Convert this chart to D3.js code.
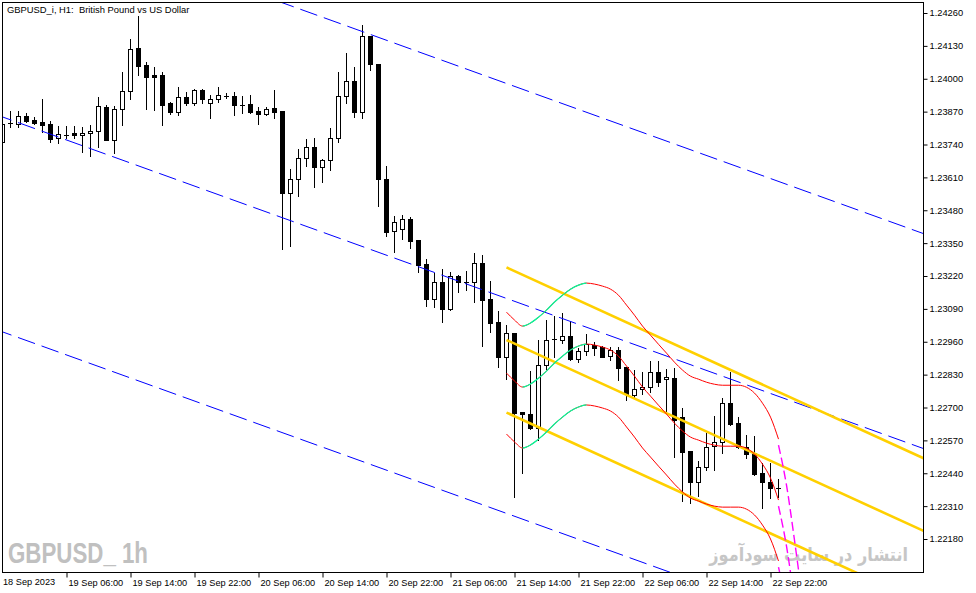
<!DOCTYPE html>
<html>
<head>
<meta charset="utf-8">
<script src="https://cdn.jsdelivr.net/npm/d3@7"></script>
<style>
body { margin: 0; background: #fff; }
svg { display: block; }
text { font-family: "Liberation Sans", Arial, sans-serif; }
</style>
</head>
<body>
<script>
// GBPUSD_i H1 candles, 18 Sep 22:00 .. 22 Sep 23:00 (bar 0 .. bar 97)
var opens = [1.23749,1.23821,1.23821,1.23852,1.23836,1.23829,1.23821,1.23765,1.23781,1.23785,
1.23777,1.23785,1.23793,1.23888,1.23757,1.23880,1.23951,1.24121,1.24054,1.24014,
1.24014,1.23904,1.23868,1.23927,1.23904,1.23955,1.23904,1.23919,1.23931,1.23931,
1.23900,1.23900,1.23872,1.23860,1.23884,1.23872,1.23548,1.23603,1.23686,1.23730,
1.23651,1.23678,1.23765,1.23931,1.23991,1.23868,1.24169,1.24058,1.23603,1.23397,
1.23405,1.23445,1.23362,1.23267,1.23129,1.23196,1.23089,1.23220,1.23196,1.23196,
1.23271,1.23129,1.23038,1.22899,1.22994,1.22682,1.22674,1.22618,1.22868,1.22967,
1.22967,1.22982,1.22891,1.22923,1.22947,1.22939,1.22903,1.22927,1.22860,1.22749,
1.22773,1.22781,1.22840,1.22812,1.22816,1.22662,1.22528,1.22405,1.22464,1.22547,
1.22563,1.22717,1.22638,1.22543,1.22520,1.22440,1.22405,1.22381];

var highs = [1.23832,1.23872,1.23872,1.23864,1.23848,1.23919,1.23832,1.23813,1.23813,1.23813,
1.23809,1.23817,1.23927,1.23896,1.23892,1.24026,1.24157,1.24248,1.24066,1.24046,
1.24026,1.23908,1.23967,1.23947,1.23959,1.23959,1.23935,1.23967,1.23943,1.23947,
1.23931,1.23935,1.23888,1.23888,1.23955,1.23872,1.23643,1.23722,1.23761,1.23765,
1.23682,1.23805,1.24026,1.24101,1.24046,1.24212,1.24169,1.24058,1.23655,1.23457,
1.23461,1.23453,1.23362,1.23287,1.23231,1.23247,1.23235,1.23223,1.23239,1.23310,
1.23303,1.23200,1.23081,1.23026,1.22994,1.22682,1.22844,1.22967,1.23046,1.23061,
1.23073,1.23042,1.22935,1.22990,1.22959,1.22943,1.22939,1.22939,1.22860,1.22848,
1.22840,1.22883,1.22883,1.22852,1.22856,1.22698,1.22528,1.22488,1.22599,1.22666,
1.22737,1.22840,1.22662,1.22591,1.22587,1.22480,1.22480,1.22417];

var lows = [1.23745,1.23809,1.23809,1.23829,1.23821,1.23789,1.23749,1.23745,1.23765,1.23765,
1.23710,1.23694,1.23730,1.23757,1.23706,1.23817,1.23919,1.24014,1.23880,1.23876,
1.23817,1.23860,1.23856,1.23896,1.23896,1.23904,1.23844,1.23908,1.23923,1.23856,
1.23864,1.23864,1.23821,1.23856,1.23844,1.23326,1.23338,1.23536,1.23655,1.23571,
1.23591,1.23639,1.23749,1.23904,1.23848,1.23844,1.24034,1.23496,1.23378,1.23314,
1.23366,1.23330,1.23235,1.23101,1.23097,1.23038,1.23085,1.23156,1.23164,1.23117,
1.22943,1.22998,1.22860,1.22812,1.22346,1.22440,1.22614,1.22571,1.22852,1.22899,
1.22955,1.22887,1.22879,1.22907,1.22907,1.22899,1.22887,1.22808,1.22729,1.22741,
1.22753,1.22761,1.22785,1.22682,1.22504,1.22330,1.22322,1.22350,1.22452,1.22452,
1.22520,1.22630,1.22539,1.22500,1.22433,1.22302,1.22342,1.22346];

var closes = [1.23821,1.23825,1.23852,1.23832,1.23825,1.23817,1.23761,1.23781,1.23779,1.23777,
1.23785,1.23793,1.23892,1.23757,1.23880,1.23951,1.24117,1.24050,1.24006,1.24006,
1.23896,1.23868,1.23927,1.23904,1.23955,1.23919,1.23919,1.23935,1.23933,1.23896,
1.23898,1.23868,1.23860,1.23880,1.23868,1.23548,1.23603,1.23686,1.23730,1.23651,
1.23678,1.23765,1.23931,1.23991,1.23868,1.24169,1.24058,1.23603,1.23394,1.23433,
1.23445,1.23358,1.23263,1.23129,1.23196,1.23089,1.23220,1.23196,1.23198,1.23271,
1.23125,1.23034,1.22899,1.22994,1.22678,1.22674,1.22618,1.22868,1.22967,1.22969,
1.22982,1.22891,1.22923,1.22951,1.22935,1.22899,1.22927,1.22856,1.22753,1.22773,
1.22781,1.22840,1.22800,1.22820,1.22650,1.22524,1.22405,1.22464,1.22543,1.22563,
1.22717,1.22634,1.22543,1.22516,1.22437,1.22405,1.22381,1.22383];

// band indicator: middle line from bar 63, forecast (dashed) from bar 97
var bandStart = 63;
var bandMid = [1.22836,1.22805,1.22781,1.22793,1.22816,1.22844,1.22876,1.22903,1.22927,1.22943,
1.22951,1.22947,1.22939,1.22927,1.22903,1.22864,1.22824,1.22781,1.22745,1.22709,
1.22674,1.22638,1.22607,1.22583,1.22571,1.22559,1.22551,1.22547,1.22547,1.22547,
1.22539,1.22516,1.22476,1.22421,1.22334];
var forecastStart = 97;
var bandForecast = [1.22310,1.22152,1.21934,1.21697];
var bandWidth = 0.00241;

// equidistant channels: [bar, price] of the middle line at two bars, and half width
var blueChannel = [[0, 1.23849], [115, 1.22539]];
var blueWidth = 0.00850;
var goldChannel = [[63, 1.22967], [115, 1.22214]];
var goldWidth = 0.00287;

var priceTicks = [1.22180,1.22310,1.22440,1.22570,1.22700,1.22830,1.22960,1.23090,1.23220,
1.23350,1.23480,1.23610,1.23740,1.23870,1.24000,1.24130,1.24260];
var firstLabel = "18 Sep 2023";
var timeTicks = [8,16,24,32,40,48,56,64,72,80,88,96];
var timeLabels = ["19 Sep 06:00","19 Sep 14:00","19 Sep 22:00","20 Sep 06:00","20 Sep 14:00",
"20 Sep 22:00","21 Sep 06:00","21 Sep 14:00","21 Sep 22:00","22 Sep 06:00","22 Sep 14:00","22 Sep 22:00"];

var w = 976, h = 593;
var pLeft = 2.5, pTop = 2.5, pRight = 923.5, pBottom = 572.5;

var x = d3.scaleLinear().domain([0, 1]).range([2.5, 10.5]);
var y = d3.scaleLinear().domain([1.22180, 1.24260]).range([539, 13]);

var svg = d3.select("body").append("svg").attr("width", w).attr("height", h);
var defs = svg.append("defs");
defs.append("clipPath").attr("id", "plotClip").append("rect")
    .attr("x", pLeft + 0.5).attr("y", pTop + 0.5)
    .attr("width", pRight - pLeft - 1).attr("height", pBottom - pTop - 1);

// watermarks
svg.append("text")
    .attr("x", 8).attr("y", 563)
    .attr("textLength", 140).attr("lengthAdjust", "spacingAndGlyphs")
    .style("font-family", "'Liberation Sans Narrow', 'Liberation Sans', sans-serif")
    .style("font-weight", "bold").style("font-size", "29px")
    .style("fill", "#c0c0c0").style("white-space", "pre")
    .text("GBPUSD_ 1h");

svg.append("text")
    .attr("transform", "translate(908,561) scale(0.85,1)")
    .attr("text-anchor", "end")
    .style("font-family", "'DejaVu Sans', sans-serif")
    .style("font-weight", "bold").style("font-size", "19px")
    .style("fill", "#c6c6c6")
    .text("انتشار در سایت سودآموز");

var plot = svg.append("g").attr("clip-path", "url(#plotClip)");

// candles
var bars = d3.range(opens.length).map(function(i) {
    return { i: i, o: opens[i], h: highs[i], l: lows[i], c: closes[i] };
});
var cg = plot.append("g").attr("shape-rendering", "crispEdges");
cg.selectAll("line.wick").data(bars).enter().append("line")
    .attr("class", "wick")
    .attr("x1", function(d) { return x(d.i); })
    .attr("x2", function(d) { return x(d.i); })
    .attr("y1", function(d) { return Math.round(y(d.h)); })
    .attr("y2", function(d) { return Math.round(y(d.l)) + 1; })
    .style("stroke", "#000");

cg.selectAll("rect.body").data(bars.filter(function(d) { return Math.abs(y(d.o) - y(d.c)) >= 1.5; }))
    .enter().append("rect")
    .attr("class", "body")
    .attr("x", function(d) { return x(d.i) - 2; })
    .attr("width", 4)
    .attr("y", function(d) { return Math.round(y(Math.max(d.o, d.c))) + 0.5; })
    .attr("height", function(d) { return Math.round(y(Math.min(d.o, d.c))) - Math.round(y(Math.max(d.o, d.c))); })
    .style("fill", function(d) { return d.c > d.o ? "#fff" : "#000"; })
    .style("stroke", "#000");

cg.selectAll("line.doji").data(bars.filter(function(d) { return Math.abs(y(d.o) - y(d.c)) < 1.5; }))
    .enter().append("line")
    .attr("class", "doji")
    .attr("x1", function(d) { return x(d.i) - 2.5; })
    .attr("x2", function(d) { return x(d.i) + 2.5; })
    .attr("y1", function(d) { return Math.round(y(d.c)) + 0.5; })
    .attr("y2", function(d) { return Math.round(y(d.c)) + 0.5; })
    .style("stroke", "#000").style("stroke-width", 1.5);

// channel lines, extended over the plot
function channelLine(ch, off, fromBar, toBar) {
    var slope = (ch[1][1] - ch[0][1]) / (ch[1][0] - ch[0][0]);
    var p = function(b) { return ch[0][1] + slope * (b - ch[0][0]) + off; };
    return [[fromBar, p(fromBar)], [toBar, p(toBar)]];
}
var seg = d3.line().x(function(d) { return x(d[0]); }).y(function(d) { return y(d[1]); });

[blueWidth, 0, -blueWidth].forEach(function(off) {
    plot.append("path")
        .attr("d", seg(channelLine(blueChannel, off, -1, 117)))
        .style("fill", "none").style("stroke", "#0000ff")
        .style("stroke-width", 1).style("stroke-dasharray", "18,7");
});

[goldWidth, 0, -goldWidth].forEach(function(off) {
    plot.append("path")
        .attr("d", seg(channelLine(goldChannel, off, goldChannel[0][0], 117)))
        .style("fill", "none").style("stroke", "#ffd000")
        .style("stroke-width", 2.6);
});

// band curves: red when falling, green when rising
var rise = defs.append("clipPath").attr("id", "riseClip");
bandMid.forEach(function(v, k) {
    if (k < bandMid.length - 1 && bandMid[k + 1] > v) {
        rise.append("rect")
            .attr("x", x(bandStart + k)).attr("y", 0)
            .attr("width", x(bandStart + k + 1) - x(bandStart + k)).attr("height", h);
    }
});

var curve = d3.line()
    .x(function(d) { return x(d[0]); })
    .y(function(d) { return y(d[1]); })
    .curve(d3.curveMonotoneX);

[bandWidth, 0, -bandWidth].forEach(function(off) {
    var pts = bandMid.map(function(v, k) { return [bandStart + k, v + off]; });
    plot.append("path").attr("d", curve(pts))
        .style("fill", "none").style("stroke", "#ff0000").style("stroke-width", 1);
    plot.append("g").attr("clip-path", "url(#riseClip)")
        .append("path").attr("d", curve(pts))
        .style("fill", "none").style("stroke", "#00fa9a").style("stroke-width", 1.2);
    var fpts = bandForecast.map(function(v, k) { return [forecastStart + k, v + off]; });
    plot.append("path").attr("d", curve(fpts))
        .style("fill", "none").style("stroke", "#ff00ff")
        .style("stroke-width", 1.4).style("stroke-dasharray", "9,4");
});

// frame
svg.append("rect")
    .attr("x", pLeft).attr("y", pTop)
    .attr("width", pRight - pLeft).attr("height", pBottom - pTop)
    .style("fill", "none").style("stroke", "#000").style("stroke-width", 1)
    .attr("shape-rendering", "crispEdges");

// price axis
var yAxis = d3.axisRight(y)
    .tickValues(priceTicks)
    .tickSize(4).tickPadding(2)
    .tickFormat(d3.format(".5f"));
var ya = svg.append("g").attr("transform", "translate(" + pRight + ",0)").call(yAxis);
ya.select(".domain").remove();
ya.selectAll("text").style("font-family", "'Liberation Sans', Arial, sans-serif")
    .style("font-size", "9.3px").style("fill", "#000");

// time axis
var xAxis = d3.axisBottom(x)
    .tickValues(timeTicks)
    .tickSize(5).tickPadding(2)
    .tickFormat(function(d, i) { return timeLabels[i]; });
var xa = svg.append("g").attr("transform", "translate(0," + pBottom + ")").call(xAxis);
xa.select(".domain").remove();
xa.selectAll("text").attr("text-anchor", "start").attr("x", 1.5)
    .style("font-family", "'Liberation Sans', Arial, sans-serif")
    .style("font-size", "9.2px").style("fill", "#000");
svg.append("text")
    .attr("x", 3).attr("y", 585)
    .style("font-size", "9.2px").style("fill", "#000")
    .text(firstLabel);

// title
svg.append("text")
    .attr("x", 7).attr("y", 13)
    .style("font-size", "9.4px").style("fill", "#000").style("white-space", "pre")
    .text("GBPUSD_i, H1:  British Pound vs US Dollar");
</script>
</body>
</html>
